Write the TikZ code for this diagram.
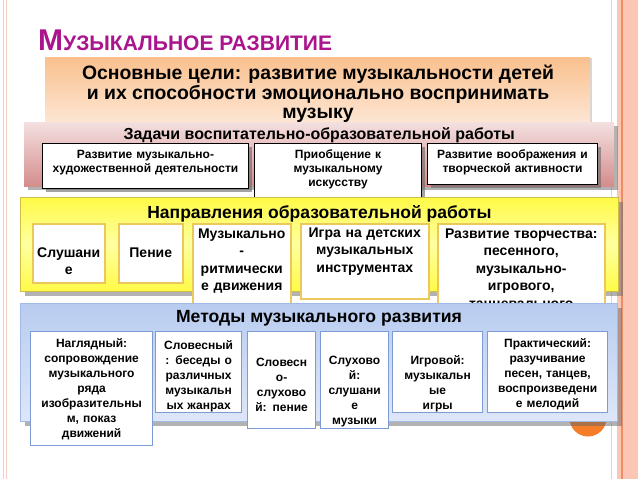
\documentclass[tikz,border=0pt]{standalone}
\usepackage{fontspec}
\setmainfont{Liberation Sans}
\usetikzlibrary{shadows,positioning}

\definecolor{titlemag}{RGB}{170,20,140}
\definecolor{goaltop}{RGB}{250,192,142}
\definecolor{goalbot}{RGB}{253,236,222}
\definecolor{pinktop}{RGB}{244,224,224}
\definecolor{pinkbot}{RGB}{212,140,140}
\definecolor{yeledge}{RGB}{255,250,70}
\definecolor{yelmid}{RGB}{255,255,160}
\definecolor{yelborder}{RGB}{205,190,70}
\definecolor{bluetop}{RGB}{184,204,240}
\definecolor{bluebot}{RGB}{222,231,248}
\definecolor{blueborder}{RGB}{160,185,230}
\definecolor{dirline}{RGB}{235,200,90}
\definecolor{methline}{RGB}{125,155,212}
\definecolor{salmon}{RGB}{252,198,180}
\definecolor{salmonline}{RGB}{240,140,100}
\definecolor{leftline}{RGB}{245,205,190}
\definecolor{dotorange}{RGB}{245,125,40}

\begin{document}
\begin{tikzpicture}[
    x=1pt, y=-1pt,
    every node/.style={font=\bfseries},
    panelshadow/.style={drop shadow={shadow xshift=4pt, shadow yshift=-4pt, fill=black!60, opacity=.5}},
    boxshadow/.style={drop shadow={shadow xshift=3pt, shadow yshift=-3pt, fill=black!60, opacity=.6}},
    panel/.style={rectangle, anchor=north west, inner sep=0pt},
    cell/.style={rectangle, anchor=north west, fill=white, inner sep=3pt, align=center},
    taskcell/.style={cell, draw=black, line width=1pt, boxshadow, font=\bfseries\fontsize{12}{14}\selectfont},
    dircell/.style={cell, draw=dirline, line width=1.5pt, font=\bfseries\fontsize{14}{17.5}\selectfont},
    methcell/.style={cell, draw=methline, line width=1.2pt, font=\bfseries\fontsize{12}{15}\selectfont}
]
\useasboundingbox (0,0) rectangle (638,479);

% Slide border
\draw[leftline, line width=1pt] (3.5,0) -- (3.5,479) (6.5,0) -- (6.5,479);
\draw[leftline, line width=1.5pt] (611.5,0) -- (611.5,479);
\fill[salmon] (617,0) rectangle (638,479);
\draw[salmonline, line width=1.2pt] (622,0) -- (622,479);

% Title
\node[anchor=base west, text=titlemag, inner sep=0pt] (title) at (38,50)
    {\bfseries\fontsize{30}{30}\selectfont М\fontsize{21}{21}\selectfont УЗЫКАЛЬНОЕ РАЗВИТИЕ};

% Goals
\node[panel, minimum width=545, minimum height=75, top color=goaltop, bottom color=goalbot,
      drop shadow={shadow xshift=2pt, shadow yshift=-1pt, fill=black!40, opacity=.4}] (goalpanel) at (45,57) {};
\node[align=center, font=\bfseries\fontsize{19.4}{19.5}\selectfont] (goaltext) at (318,94)
    {Основные цели: развитие музыкальности детей\\и их способности эмоционально воспринимать\\музыку};

% Tasks
\node[panel, minimum width=590, minimum height=64, top color=pinktop, bottom color=pinkbot, panelshadow] (taskpanel) at (24,122) {};
\node[font=\bfseries\fontsize{16}{18}\selectfont, below=2pt of taskpanel.north] (tasktitle) {Задачи воспитательно-образовательной работы};
\node[taskcell, text width=200pt, text height=12pt, text depth=27pt] (taskA) at (42,143)
    {Развитие музыкально-\\художественной деятельности};
\node[taskcell, text width=161pt, text height=12pt, text depth=37pt] (taskB) at (254,143)
    {Приобщение к\\музыкальному\\искусству};
\node[taskcell, text width=164pt, text height=12pt, text depth=23pt] (taskC) at (427,143)
    {Развитие воображения и\\творческой активности};

% Directions
\node[panel, minimum width=598, minimum height=94, top color=yeledge, bottom color=yeledge, middle color=yelmid,
      draw=yelborder, line width=1pt, panelshadow] (dirpanel) at (20,197) {};
\node[font=\bfseries\fontsize{17.5}{19}\selectfont, below=5pt of dirpanel.north] (dirtitle) {Направления образовательной работы};
\node[dircell, text width=66pt, text height=30.5pt, text depth=22.5pt] (dirA) at (32,223) {Слушани\\е};
\node[dircell, text width=58pt, text height=30.5pt, text depth=22.5pt] (dirB) at (118,223) {Пение};
\node[dircell, text width=92pt, text height=11.5pt, text depth=65.5pt] (dirC) at (192,223)
    {Музыкально\\-\\ритмически\\е движения};
\node[dircell, text width=122pt, text height=10.5pt, text depth=58.5pt] (dirD) at (300,223)
    {Игра на детских\\музыкальных\\инструментах};
\node[dircell, text width=161pt, text height=11.5pt, text depth=82.5pt] (dirE) at (437,223)
    {Развитие творчества:\\песенного,\\музыкально-\\игрового,\\танцевального};

% Methods
\fill[dotorange] (588,418) circle[radius=18.5pt];
\node[panel, minimum width=597, minimum height=118, top color=bluetop, bottom color=bluebot,
      draw=blueborder, line width=1pt, panelshadow] (methpanel) at (20,303) {};
\node[font=\bfseries\fontsize{17.6}{19}\selectfont, below=4pt of methpanel.north] (methtitle) {Методы музыкального развития};
\node[methcell, text width=116pt, text height=13pt, text depth=95pt] (methA) at (30,331)
    {Наглядный:\\сопровождение\\музыкального\\ряда\\изобразительны\\м, показ\\движений};
\node[methcell, text width=80pt, text height=15pt, text depth=60pt] (methB) at (155,331)
    {Словесный\\: беседы о\\различных\\музыкальн\\ых жанрах};
\node[methcell, text width=62pt, text height=32pt, text depth=59pt] (methC) at (247,331)
    {Словесн\\о-\\слухово\\й: пение};
\node[methcell, text width=62pt, text height=30pt, text depth=61pt] (methD) at (320,331)
    {Слухово\\й:\\слушани\\е\\музыки};
\node[methcell, text width=84pt, text height=30pt, text depth=45pt] (methE) at (392,331)
    {Игровой:\\музыкальн\\ые\\игры};
\node[methcell, text width=114pt, text height=13pt, text depth=62pt] (methF) at (487,331)
    {Практический:\\разучивание\\песен, танцев,\\воспроизведени\\е мелодий};

\end{tikzpicture}
\end{document}
